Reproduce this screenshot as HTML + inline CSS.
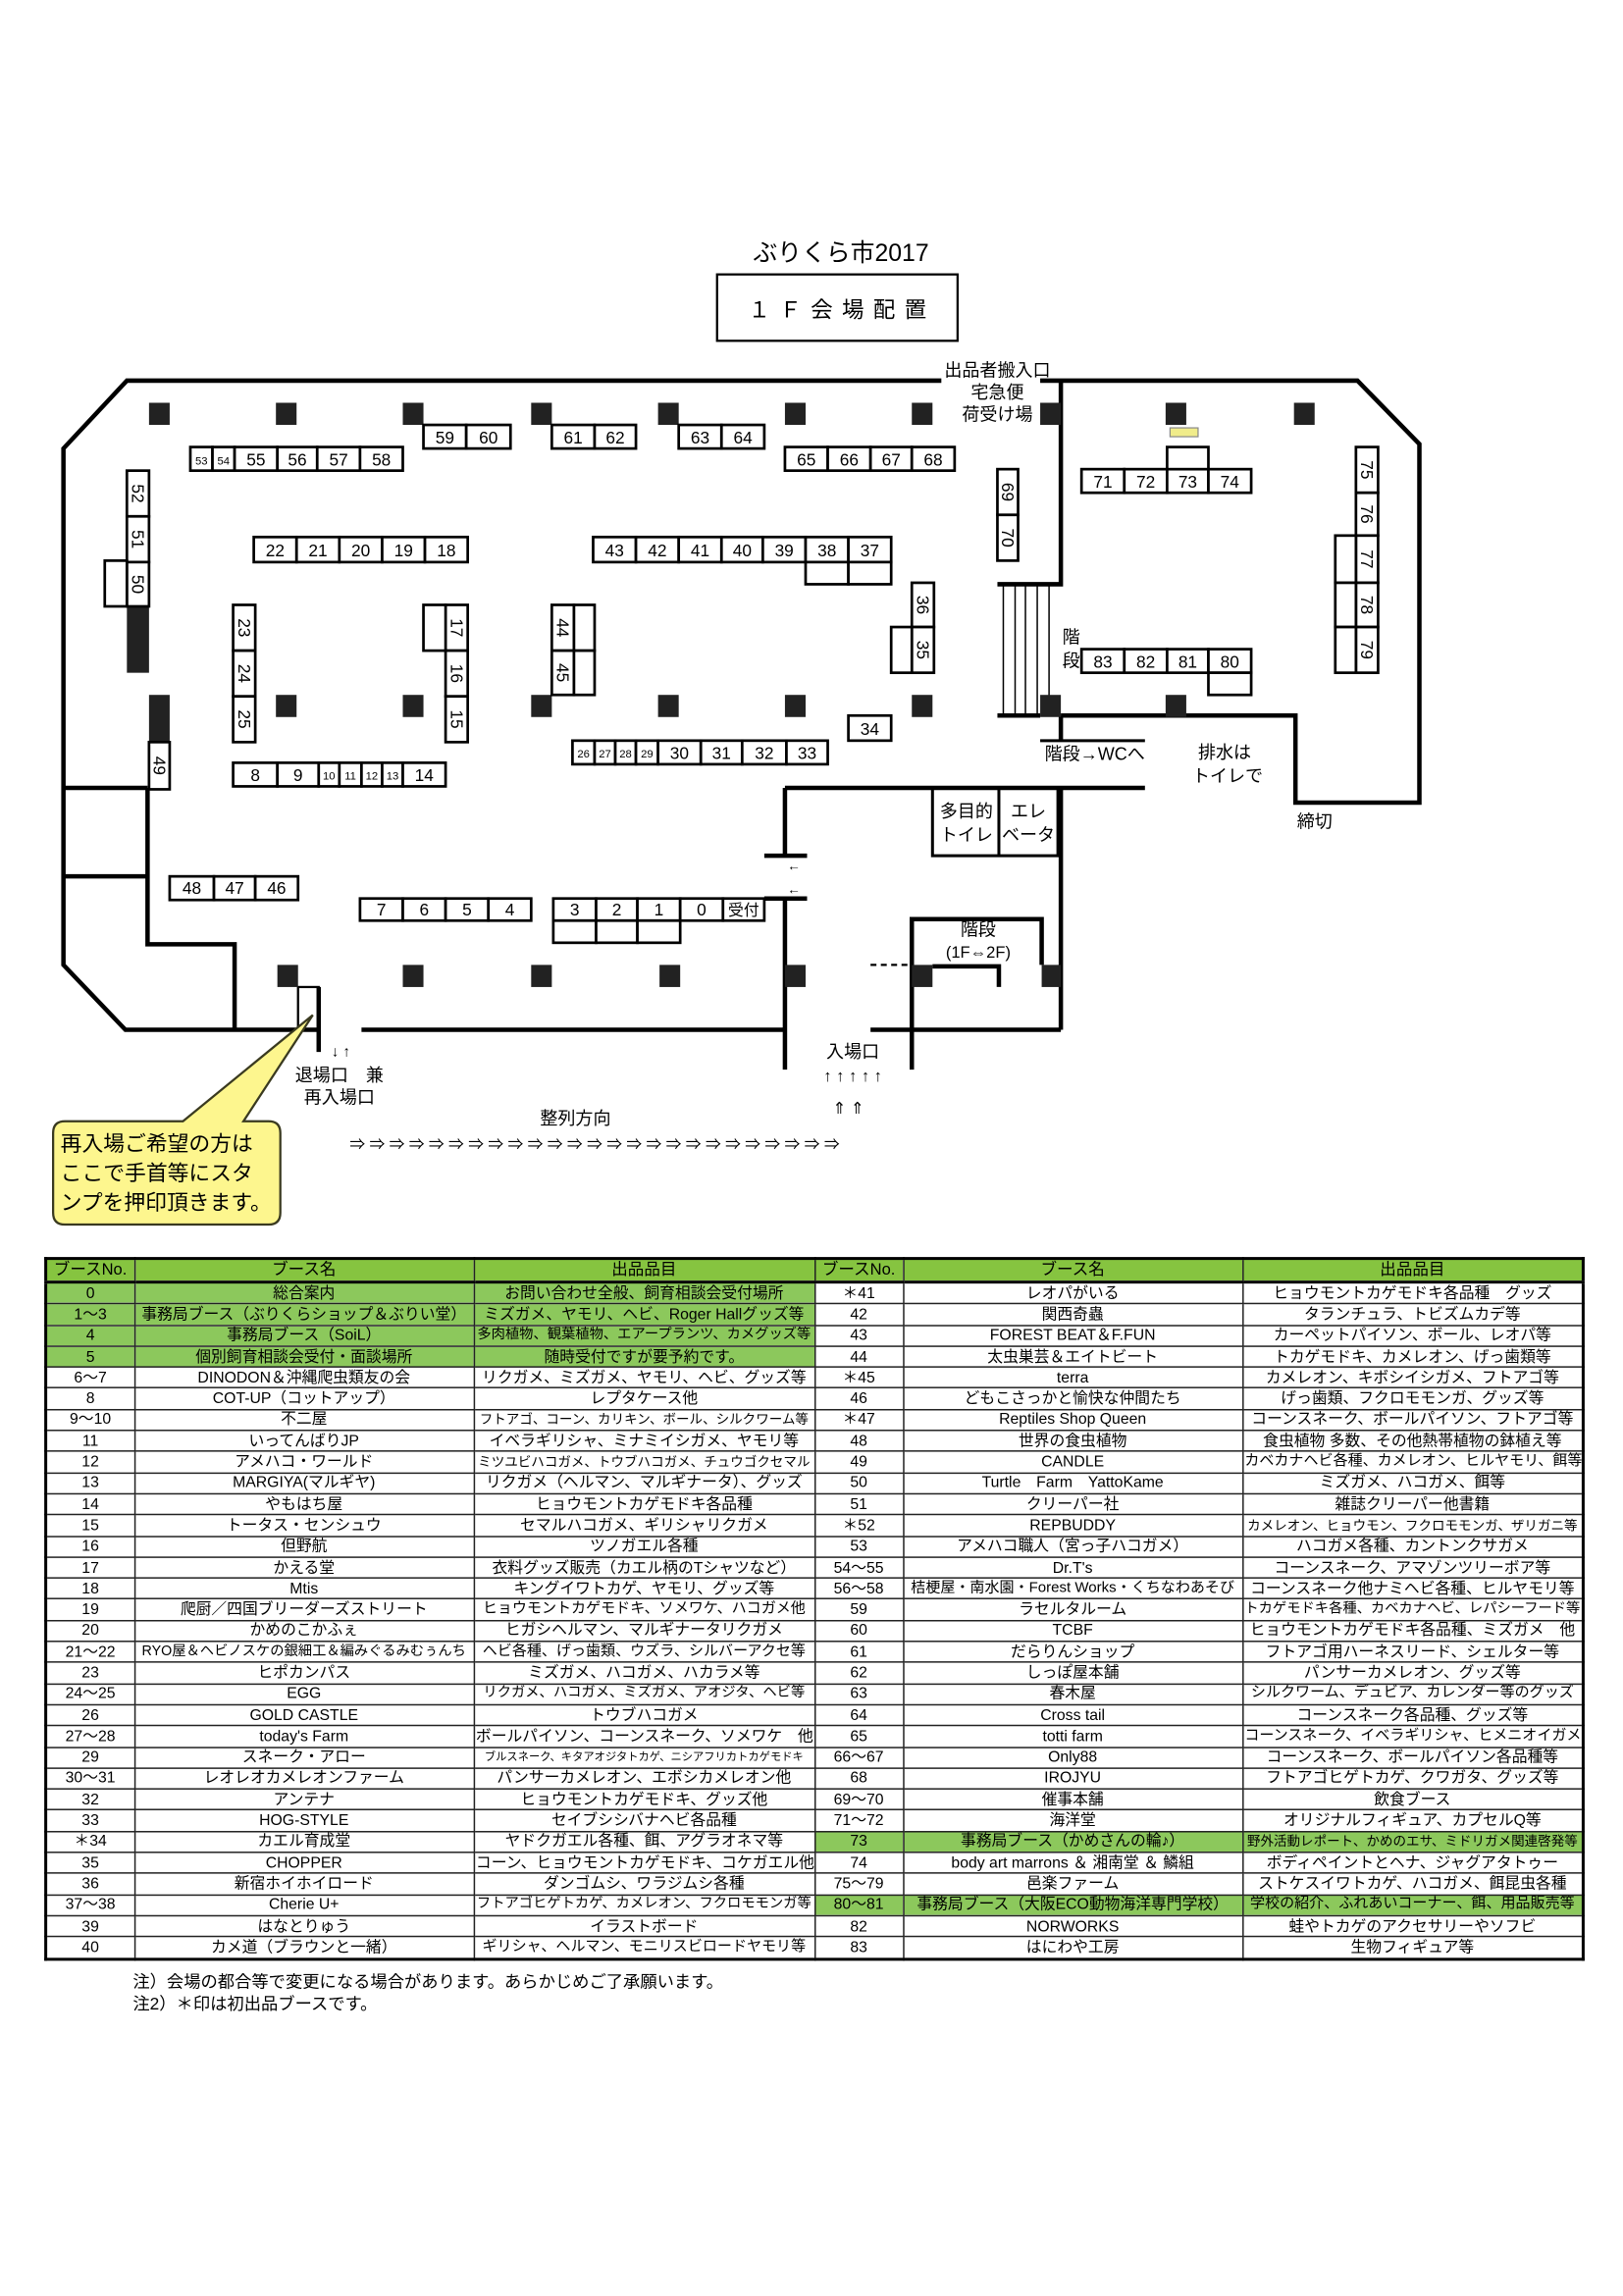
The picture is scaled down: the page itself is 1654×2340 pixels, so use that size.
<!DOCTYPE html>
<html><head><meta charset="utf-8">
<style>
html,body{margin:0;padding:0;background:#fff;}
body{width:1654px;height:2340px;overflow:hidden;position:relative;}
#w{position:absolute;left:0;top:0;width:1100px;height:1556px;transform:scale(1.50364);transform-origin:0 0;font-family:"Liberation Sans","Noto Sans CJK JP",sans-serif;}
svg text{font-family:"Liberation Sans Narrow","Liberation Sans","Noto Sans CJK JP",sans-serif;fill:#000;}
svg .j{font-family:"Liberation Sans","Noto Sans CJK JP",sans-serif;}
table{position:absolute;left:30px;top:852px;width:1042px;border-collapse:collapse;table-layout:fixed;border:2px solid #000;}
td{border:1px solid #222;height:13.3px;padding:0 1px;font-size:10.5px;line-height:12px;text-align:center;white-space:nowrap;overflow:hidden;font-family:"Liberation Sans Narrow","Liberation Sans","Noto Sans CJK JP",sans-serif;}
tr.h td{background:#86c440;height:14px;font-size:11px;border-bottom:2px solid #000;}
td.g{background:#8cc85c;}
.note{position:absolute;left:90px;font-size:11.5px;line-height:14px;}
</style></head><body>
<div id="w">
<svg width="1100" height="860" viewBox="0 0 1100 860" style="position:absolute;left:0;top:0">
<g fill="none" stroke="#000">
<rect x="486" y="186" width="163" height="45" stroke-width="1.5"/>
<g stroke-width="3">
<path d="M638,258 H86 L43,304 V654 L85,698 H216"/>
<path d="M245,698 H532"/><path d="M590,698 H719"/>
<path d="M705,258 H920 L962,301 V544 H878 V485 H719"/>
<path d="M719,258 V396 H676"/>
<path d="M719,485 V502"/>
<path d="M532,534 H776"/>
<path d="M532,534 V580"/><path d="M518,580 H547"/><path d="M518,609 H547"/><path d="M532,609 V725"/>
<path d="M719,534 V698"/>
<path d="M618,725 V623 H706 V654"/>
<path d="M632,655 H677 V669"/>
<path d="M42,534 H100"/><path d="M42,594 H100"/>
<path d="M100,534 V640 H159 V698"/>
<path d="M216,669 V713"/>
<path d="M676,485 H705"/>
</g>
<path d="M705,502 H776" stroke-width="2"/>
<path d="M590,654 H618" stroke-width="1.5" stroke-dasharray="4,3"/>
<rect x="632" y="534" width="85" height="46" stroke-width="2"/>
<path d="M677,534 V580" stroke-width="2"/>
<rect x="202" y="669" width="14" height="29" stroke-width="1.5"/>
<g stroke-width="1"><path d="M680,396 V485 M688,396 V485 M695,396 V485 M703,396 V485 M711,396 V485"/></g>
</g>
<g fill="#222">
<rect x="101" y="273" width="14" height="15"/><rect x="187" y="273" width="14" height="15"/><rect x="273" y="273" width="14" height="15"/><rect x="360" y="273" width="14" height="15"/><rect x="446" y="273" width="14" height="15"/><rect x="532" y="273" width="14" height="15"/><rect x="618" y="273" width="14" height="15"/><rect x="705" y="273" width="14" height="15"/><rect x="790" y="273" width="14" height="15"/><rect x="877" y="273" width="14" height="15"/>
<rect x="101" y="471" width="14" height="32"/><rect x="187" y="471" width="14" height="15"/><rect x="273" y="471" width="14" height="15"/><rect x="360" y="471" width="14" height="15"/><rect x="446" y="471" width="14" height="15"/><rect x="532" y="471" width="14" height="15"/><rect x="618" y="471" width="14" height="15"/><rect x="705" y="471" width="14" height="15"/><rect x="790" y="471" width="14" height="15"/>
<rect x="86" y="411" width="15" height="45"/>
<rect x="188" y="654" width="14" height="15"/><rect x="273" y="654" width="14" height="15"/><rect x="360" y="654" width="14" height="15"/><rect x="447" y="654" width="14" height="15"/><rect x="532" y="654" width="14" height="15"/>
<rect x="618" y="654" width="14" height="15"/><rect x="706" y="654" width="13" height="15"/>
</g>
<rect x="793" y="290" width="19" height="6" fill="#f0ec8a" stroke="#888" stroke-width="0.8"/>
<g fill="#fff" stroke="#000" stroke-width="1.8">
<rect x="129" y="303" width="15" height="16"/><rect x="144" y="303" width="15" height="16"/><rect x="159" y="303" width="29" height="16"/><rect x="188" y="303" width="27" height="16"/><rect x="215" y="303" width="29" height="16"/><rect x="244" y="303" width="29" height="16"/>
<rect x="287" y="288" width="29" height="16"/><rect x="316" y="288" width="30" height="16"/>
<rect x="374" y="288" width="29" height="16"/><rect x="403" y="288" width="28" height="16"/>
<rect x="460" y="288" width="29" height="16"/><rect x="489" y="288" width="29" height="16"/>
<rect x="532" y="303" width="29" height="16"/><rect x="561" y="303" width="29" height="16"/><rect x="590" y="303" width="28" height="16"/><rect x="618" y="303" width="29" height="16"/>
<rect x="172" y="364" width="29" height="17"/><rect x="201" y="364" width="29" height="17"/><rect x="230" y="364" width="29" height="17"/><rect x="259" y="364" width="29" height="17"/><rect x="288" y="364" width="29" height="17"/>
<rect x="402" y="364" width="29" height="17"/><rect x="431" y="364" width="29" height="17"/><rect x="460" y="364" width="29" height="17"/><rect x="489" y="364" width="28" height="17"/><rect x="517" y="364" width="29" height="17"/><rect x="546" y="364" width="29" height="17"/><rect x="575" y="364" width="29" height="17"/>
<rect x="546" y="381" width="29" height="15"/><rect x="575" y="381" width="29" height="15"/>
<rect x="733" y="318" width="29" height="16"/><rect x="762" y="318" width="29" height="16"/><rect x="791" y="318" width="28" height="16"/><rect x="819" y="318" width="29" height="16"/><rect x="791" y="303" width="28" height="15"/>
<rect x="733" y="440" width="29" height="16"/><rect x="762" y="440" width="29" height="16"/><rect x="791" y="440" width="28" height="16"/><rect x="819" y="440" width="29" height="16"/><rect x="819" y="456" width="29" height="15"/>
<rect x="575" y="485" width="29" height="17"/>
<rect x="388" y="502" width="15" height="16"/><rect x="403" y="502" width="14" height="16"/><rect x="417" y="502" width="14" height="16"/><rect x="431" y="502" width="15" height="16"/><rect x="446" y="502" width="29" height="16"/><rect x="475" y="502" width="28" height="16"/><rect x="503" y="502" width="30" height="16"/><rect x="533" y="502" width="28" height="16"/>
<rect x="158" y="517" width="30" height="16"/><rect x="188" y="517" width="28" height="16"/><rect x="216" y="517" width="14" height="16"/><rect x="230" y="517" width="15" height="16"/><rect x="245" y="517" width="14" height="16"/><rect x="259" y="517" width="14" height="16"/><rect x="273" y="517" width="29" height="16"/>
<rect x="115" y="594" width="30" height="16"/><rect x="145" y="594" width="28" height="16"/><rect x="173" y="594" width="29" height="16"/>
<rect x="244" y="609" width="29" height="15"/><rect x="273" y="609" width="29" height="15"/><rect x="302" y="609" width="29" height="15"/><rect x="331" y="609" width="29" height="15"/>
<rect x="375" y="609" width="29" height="15"/><rect x="404" y="609" width="28" height="15"/><rect x="432" y="609" width="29" height="15"/><rect x="461" y="609" width="29" height="15"/><rect x="490" y="609" width="28" height="15"/>
<rect x="375" y="624" width="29" height="15"/><rect x="404" y="624" width="28" height="15"/><rect x="432" y="624" width="29" height="15"/>
<rect x="86" y="319" width="15" height="31"/><rect x="86" y="350" width="15" height="31"/><rect x="86" y="381" width="15" height="30"/><rect x="71" y="380" width="15" height="31"/>
<rect x="158" y="410" width="15" height="31"/><rect x="158" y="441" width="15" height="31"/><rect x="158" y="472" width="15" height="31"/>
<rect x="302" y="410" width="15" height="31"/><rect x="302" y="441" width="15" height="31"/><rect x="302" y="472" width="15" height="31"/><rect x="287" y="410" width="15" height="31"/>
<rect x="374" y="410" width="15" height="31"/><rect x="374" y="441" width="15" height="30"/><rect x="389" y="410" width="14" height="31"/><rect x="389" y="441" width="14" height="30"/>
<rect x="618" y="395" width="15" height="30"/><rect x="618" y="425" width="15" height="31"/><rect x="604" y="425" width="14" height="31"/>
<rect x="676" y="318" width="14" height="31"/><rect x="676" y="349" width="14" height="31"/>
<rect x="919" y="303" width="15" height="31"/><rect x="919" y="334" width="15" height="29"/><rect x="919" y="363" width="15" height="32"/><rect x="919" y="395" width="15" height="30"/><rect x="919" y="425" width="15" height="31"/>
<rect x="905" y="363" width="14" height="32"/><rect x="905" y="395" width="14" height="30"/><rect x="905" y="425" width="14" height="31"/>
<rect x="101" y="503" width="14" height="32"/>
</g>
<g font-size="11.5" text-anchor="middle">
<text x="136.5" y="315" font-size="7.5">53</text><text x="151.5" y="315" font-size="7.5">54</text><text x="173.5" y="315.5">55</text><text x="201.5" y="315.5">56</text><text x="229.5" y="315.5">57</text><text x="258.5" y="315.5">58</text>
<text x="301.5" y="300.5">59</text><text x="331" y="300.5">60</text><text x="388.5" y="300.5">61</text><text x="417" y="300.5">62</text><text x="474.5" y="300.5">63</text><text x="503.5" y="300.5">64</text>
<text x="546.5" y="315.5">65</text><text x="575.5" y="315.5">66</text><text x="604" y="315.5">67</text><text x="632.5" y="315.5">68</text>
<text x="186.5" y="377">22</text><text x="215.5" y="377">21</text><text x="244.5" y="377">20</text><text x="273.5" y="377">19</text><text x="302.5" y="377">18</text>
<text x="416.5" y="377">43</text><text x="445.5" y="377">42</text><text x="474.5" y="377">41</text><text x="503" y="377">40</text><text x="531.5" y="377">39</text><text x="560.5" y="377">38</text><text x="589.5" y="377">37</text>
<text x="747.5" y="330.5">71</text><text x="776.5" y="330.5">72</text><text x="805" y="330.5">73</text><text x="833.5" y="330.5">74</text>
<text x="747.5" y="452.5">83</text><text x="776.5" y="452.5">82</text><text x="805" y="452.5">81</text><text x="833.5" y="452.5">80</text>
<text x="589.5" y="498">34</text>
<text x="395.5" y="513.5" font-size="7.5">26</text><text x="410" y="513.5" font-size="7.5">27</text><text x="424" y="513.5" font-size="7.5">28</text><text x="438.5" y="513.5" font-size="7.5">29</text><text x="460.5" y="514.5">30</text><text x="489" y="514.5">31</text><text x="518" y="514.5">32</text><text x="547" y="514.5">33</text>
<text x="173" y="529.5">8</text><text x="202" y="529.5">9</text><text x="223" y="528.5" font-size="7.5">10</text><text x="237.5" y="528.5" font-size="7.5">11</text><text x="252" y="528.5" font-size="7.5">12</text><text x="266" y="528.5" font-size="7.5">13</text><text x="287.5" y="529.5">14</text>
<text x="130" y="606">48</text><text x="159" y="606">47</text><text x="187.5" y="606">46</text>
<text x="258.5" y="620.5">7</text><text x="287.5" y="620.5">6</text><text x="316.5" y="620.5">5</text><text x="345.5" y="620.5">4</text>
<text x="389.5" y="620.5">3</text><text x="418" y="620.5">2</text><text x="446.5" y="620.5">1</text><text x="475.5" y="620.5">0</text><text x="504" y="620.5" class="j" font-size="10.5">受付</text>
</g>
<g font-size="11.5" text-anchor="middle">
<text transform="translate(89.5,334.5) rotate(90)">52</text><text transform="translate(89.5,365.5) rotate(90)">51</text><text transform="translate(89.5,396) rotate(90)">50</text>
<text transform="translate(161.5,425.5) rotate(90)">23</text><text transform="translate(161.5,456.5) rotate(90)">24</text><text transform="translate(161.5,487.5) rotate(90)">25</text>
<text transform="translate(305.5,425.5) rotate(90)">17</text><text transform="translate(305.5,456.5) rotate(90)">16</text><text transform="translate(305.5,487.5) rotate(90)">15</text>
<text transform="translate(377.5,425.5) rotate(90)">44</text><text transform="translate(377.5,456) rotate(90)">45</text>
<text transform="translate(621.5,410) rotate(90)">36</text><text transform="translate(621.5,440.5) rotate(90)">35</text>
<text transform="translate(679,333.5) rotate(90)">69</text><text transform="translate(679,364.5) rotate(90)">70</text>
<text transform="translate(922.5,318.5) rotate(90)">75</text><text transform="translate(922.5,348.5) rotate(90)">76</text><text transform="translate(922.5,379) rotate(90)">77</text><text transform="translate(922.5,410) rotate(90)">78</text><text transform="translate(922.5,440.5) rotate(90)">79</text>
<text transform="translate(104,519) rotate(90)">49</text>
</g>
<g class="j" font-size="12" text-anchor="middle">
<text x="570" y="177" font-size="16.5">ぶりくら市2017</text>
<text x="568" y="215" font-size="15" letter-spacing="1">１ Ｆ 会 場 配 置</text>
<text x="676" y="255">出品者搬入口</text>
<text x="676" y="270">宅急便</text>
<text x="676" y="285">荷受け場</text>
<text x="726" y="436">階</text><text x="726" y="452">段</text>
<text x="742" y="515">階段→WCへ</text>
<text x="830" y="514">排水は</text><text x="832" y="530">トイレで</text>
<text x="891" y="561">締切</text>
<text x="655" y="554">多目的</text><text x="655" y="570">トイレ</text>
<text x="697" y="554">エレ</text><text x="697" y="570">ベータ</text>
<text x="663" y="634">階段</text><text x="663" y="649" font-size="11">(1F⇔2F)</text>
<text x="538" y="590" font-size="9">←</text><text x="538" y="606" font-size="9">←</text>
<text x="231" y="716" font-size="10">↓ ↑</text>
<text x="230" y="733">退場口　兼</text>
<text x="230" y="748">再入場口</text>
<text x="578" y="717">入場口</text>
<text x="578" y="733" font-size="11">↑ ↑ ↑ ↑ ↑</text>
<text x="575" y="755" font-size="11">⇑ ⇑</text>
<text x="390" y="762">整列方向</text>
<text x="403" y="779" font-size="10.5">⇒ ⇒ ⇒ ⇒ ⇒ ⇒ ⇒ ⇒ ⇒ ⇒ ⇒ ⇒ ⇒ ⇒ ⇒ ⇒ ⇒ ⇒ ⇒ ⇒ ⇒ ⇒ ⇒ ⇒ ⇒</text>
</g>
<path d="M44,760 H124 L212,688 L165,760 H182 Q190,760 190,768 V822 Q190,830 182,830 H44 Q36,830 36,822 V768 Q36,760 44,760 Z" fill="#fdf68e" stroke="#3a3a20" stroke-width="1.5"/>
<g class="j" font-size="14.5">
<text x="41" y="780">再入場ご希望の方は</text>
<text x="41" y="800">ここで手首等にスタ</text>
<text x="41" y="820">ンプを押印頂きます。</text>
</g>
</svg>

<table>
<colgroup><col style="width:60px"><col style="width:230px"><col style="width:231px"><col style="width:60px"><col style="width:230px"><col style="width:231px"></colgroup>
<tr class="h"><td>ブースNo.</td><td>ブース名</td><td>出品品目</td><td>ブースNo.</td><td>ブース名</td><td>出品品目</td></tr>
<tr><td class="g">0</td><td class="g">総合案内</td><td class="g">お問い合わせ全般、飼育相談会受付場所</td><td>＊41</td><td>レオパがいる</td><td>ヒョウモントカゲモドキ各品種　グッズ</td></tr>
<tr><td class="g">1～3</td><td class="g">事務局ブース（ぶりくらショップ＆ぶりい堂）</td><td class="g">ミズガメ、ヤモリ、ヘビ、Roger Hallグッズ等</td><td>42</td><td>関西奇蟲</td><td>タランチュラ、トビズムカデ等</td></tr>
<tr><td class="g">4</td><td class="g">事務局ブース（SoiL）</td><td class="g">多肉植物、観葉植物、エアープランツ、カメグッズ等</td><td>43</td><td>FOREST BEAT＆F.FUN</td><td>カーペットパイソン、ボール、レオパ等</td></tr>
<tr><td class="g">5</td><td class="g">個別飼育相談会受付・面談場所</td><td class="g">随時受付ですが要予約です。</td><td>44</td><td>太虫巣芸＆エイトビート</td><td>トカゲモドキ、カメレオン、げっ歯類等</td></tr>
<tr><td>6～7</td><td>DINODON＆沖縄爬虫類友の会</td><td>リクガメ、ミズガメ、ヤモリ、ヘビ、グッズ等</td><td>＊45</td><td>terra</td><td>カメレオン、キボシイシガメ、フトアゴ等</td></tr>
<tr><td>8</td><td>COT-UP（コットアップ）</td><td>レプタケース他</td><td>46</td><td>どもこさっかと愉快な仲間たち</td><td>げっ歯類、フクロモモンガ、グッズ等</td></tr>
<tr><td>9～10</td><td>不二屋</td><td>フトアゴ、コーン、カリキン、ボール、シルクワーム等</td><td>＊47</td><td>Reptiles Shop Queen</td><td>コーンスネーク、ボールパイソン、フトアゴ等</td></tr>
<tr><td>11</td><td>いってんばりJP</td><td>イベラギリシャ、ミナミイシガメ、ヤモリ等</td><td>48</td><td>世界の食虫植物</td><td>食虫植物 多数、その他熱帯植物の鉢植え等</td></tr>
<tr><td>12</td><td>アメハコ・ワールド</td><td>ミツユビハコガメ、トウブハコガメ、チュウゴクセマル</td><td>49</td><td>CANDLE</td><td>カベカナヘビ各種、カメレオン、ヒルヤモリ、餌等</td></tr>
<tr><td>13</td><td>MARGIYA(マルギヤ)</td><td>リクガメ（ヘルマン、マルギナータ）、グッズ</td><td>50</td><td>Turtle　Farm　YattoKame</td><td>ミズガメ、ハコガメ、餌等</td></tr>
<tr><td>14</td><td>やもはち屋</td><td>ヒョウモントカゲモドキ各品種</td><td>51</td><td>クリーパー社</td><td>雑誌クリーパー他書籍</td></tr>
<tr><td>15</td><td>トータス・センシュウ</td><td>セマルハコガメ、ギリシャリクガメ</td><td>＊52</td><td>REPBUDDY</td><td>カメレオン、ヒョウモン、フクロモモンガ、ザリガニ等</td></tr>
<tr><td>16</td><td>但野航</td><td>ツノガエル各種</td><td>53</td><td>アメハコ職人（宮っ子ハコガメ）</td><td>ハコガメ各種、カントンクサガメ</td></tr>
<tr><td>17</td><td>かえる堂</td><td>衣料グッズ販売（カエル柄のTシャツなど）</td><td>54～55</td><td>Dr.T's</td><td>コーンスネーク、アマゾンツリーボア等</td></tr>
<tr><td>18</td><td>Mtis</td><td>キングイワトカゲ、ヤモリ、グッズ等</td><td>56～58</td><td>桔梗屋・南水園・Forest Works・くちなわあそび</td><td>コーンスネーク他ナミヘビ各種、ヒルヤモリ等</td></tr>
<tr><td>19</td><td>爬厨／四国ブリーダーズストリート</td><td>ヒョウモントカゲモドキ、ソメワケ、ハコガメ他</td><td>59</td><td>ラセルタルーム</td><td>トカゲモドキ各種、カベカナヘビ、レパシーフード等</td></tr>
<tr><td>20</td><td>かめのこかふぇ</td><td>ヒガシヘルマン、マルギナータリクガメ</td><td>60</td><td>TCBF</td><td>ヒョウモントカゲモドキ各品種、ミズガメ　他</td></tr>
<tr><td>21～22</td><td>RYO屋＆ヘビノスケの銀細工＆編みぐるみむぅんち</td><td>ヘビ各種、げっ歯類、ウズラ、シルバーアクセ等</td><td>61</td><td>だらりんショップ</td><td>フトアゴ用ハーネスリード、シェルター等</td></tr>
<tr><td>23</td><td>ヒポカンパス</td><td>ミズガメ、ハコガメ、ハカラメ等</td><td>62</td><td>しっぽ屋本舗</td><td>パンサーカメレオン、グッズ等</td></tr>
<tr><td>24～25</td><td>EGG</td><td>リクガメ、ハコガメ、ミズガメ、アオジタ、ヘビ等</td><td>63</td><td>春木屋</td><td>シルクワーム、デュビア、カレンダー等のグッズ</td></tr>
<tr><td>26</td><td>GOLD CASTLE</td><td>トウブハコガメ</td><td>64</td><td>Cross tail</td><td>コーンスネーク各品種、グッズ等</td></tr>
<tr><td>27～28</td><td>today's Farm</td><td>ボールパイソン、コーンスネーク、ソメワケ　他</td><td>65</td><td>totti farm</td><td>コーンスネーク、イベラギリシャ、ヒメニオイガメ</td></tr>
<tr><td>29</td><td>スネーク・アロー</td><td>ブルスネーク、キタアオジタトカゲ、ニシアフリカトカゲモドキ</td><td>66～67</td><td>Only88</td><td>コーンスネーク、ボールパイソン各品種等</td></tr>
<tr><td>30～31</td><td>レオレオカメレオンファーム</td><td>パンサーカメレオン、エボシカメレオン他</td><td>68</td><td>IROJYU</td><td>フトアゴヒゲトカゲ、クワガタ、グッズ等</td></tr>
<tr><td>32</td><td>アンテナ</td><td>ヒョウモントカゲモドキ、グッズ他</td><td>69～70</td><td>催事本舗</td><td>飲食ブース</td></tr>
<tr><td>33</td><td>HOG-STYLE</td><td>セイブシシバナヘビ各品種</td><td>71～72</td><td>海洋堂</td><td>オリジナルフィギュア、カプセルQ等</td></tr>
<tr><td>＊34</td><td>カエル育成堂</td><td>ヤドクガエル各種、餌、アグラオネマ等</td><td class="g">73</td><td class="g">事務局ブース（かめさんの輪♪）</td><td class="g">野外活動レポート、かめのエサ、ミドリガメ関連啓発等</td></tr>
<tr><td>35</td><td>CHOPPER</td><td>コーン、ヒョウモントカゲモドキ、コケガエル他</td><td>74</td><td>body art marrons ＆ 湘南堂 ＆ 鱗組</td><td>ボディペイントとヘナ、ジャグアタトゥー</td></tr>
<tr><td>36</td><td>新宿ホイホイロード</td><td>ダンゴムシ、ワラジムシ各種</td><td>75～79</td><td>邑楽ファーム</td><td>ストケスイワトカゲ、ハコガメ、餌昆虫各種</td></tr>
<tr><td>37～38</td><td>Cherie U+</td><td>フトアゴヒゲトカゲ、カメレオン、フクロモモンガ等</td><td class="g">80～81</td><td class="g">事務局ブース（大阪ECO動物海洋専門学校）</td><td class="g">学校の紹介、ふれあいコーナー、餌、用品販売等</td></tr>
<tr><td>39</td><td>はなとりゅう</td><td>イラストボード</td><td>82</td><td>NORWORKS</td><td>蛙やトカゲのアクセサリーやソフビ</td></tr>
<tr><td>40</td><td>カメ道（ブラウンと一緒）</td><td>ギリシャ、ヘルマン、モニリスビロードヤモリ等</td><td>83</td><td>はにわや工房</td><td>生物フィギュア等</td></tr>
</table>
<div class="note" style="top:1337px">注）会場の都合等で変更になる場合があります。あらかじめご了承願います。</div>
<div class="note" style="top:1352px">注2）＊印は初出品ブースです。</div>
</div>
<script>
document.querySelectorAll('td').forEach(function(td){var f=10.5;while(td.scrollWidth>td.clientWidth+1&&f>6){f-=0.5;td.style.fontSize=f+'px';}});
</script>
</body></html>
